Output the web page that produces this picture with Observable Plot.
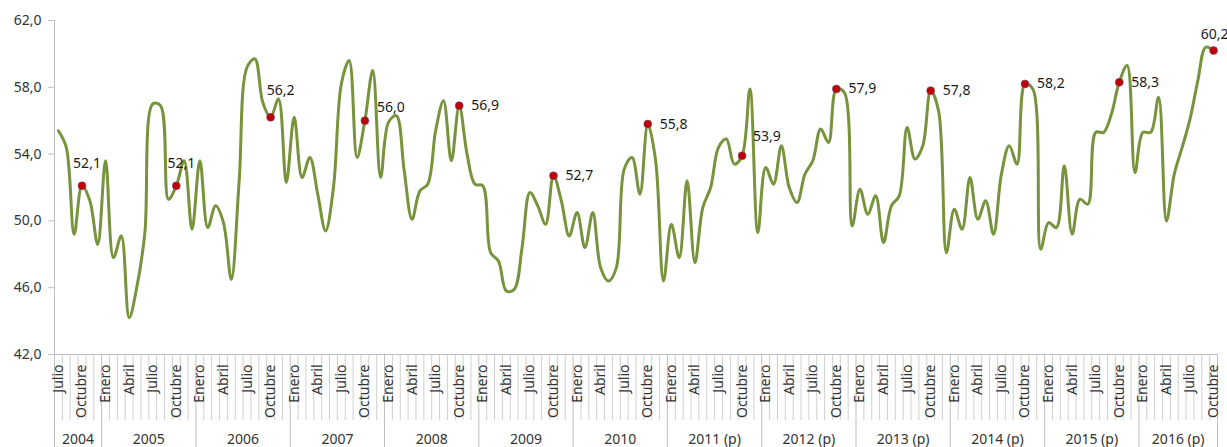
<!DOCTYPE html>
<html>
<head>
<meta charset="utf-8">
<script src="https://cdn.jsdelivr.net/npm/d3@7"></script>
<script src="https://cdn.jsdelivr.net/npm/@observablehq/plot@0.6"></script>
<style>
  html, body { margin: 0; padding: 0; background: #fff; }
  #chart svg { display: block; }
</style>
</head>
<body>
<div id="chart"></div>
<script>
// ---- data ----
const monthNames = ["Enero","Febrero","Marzo","Abril","Mayo","Junio","Julio","Agosto","Septiembre","Octubre","Noviembre","Diciembre"];
const shownMonths = ["Enero","Abril","Julio","Octubre"];
const yearLabels = ["2004","2005","2006","2007","2008","2009","2010","2011 (p)","2012 (p)","2013 (p)","2014 (p)","2015 (p)","2016 (p)"];
const startMonth = "Julio";   // first month of the series (2004)
const highlightMonth = "Octubre";
const yTicks = [42, 46, 50, 54, 58, 62];
const values = [
  55.4, 54.4, 49.2, 52.1, 51.2, 48.6,                                   // 2004 Jul-Dic
  53.6, 47.8, 49.1, 44.2, 46.1, 49.3, 57.0, 56.9, 51.3, 52.1, 53.6, 49.5, // 2005
  53.6, 49.6, 50.9, 49.9, 46.5, 52.4, 59.2, 59.7, 57.1, 56.2, 57.3, 52.3, // 2006
  56.2, 52.6, 53.8, 51.6, 49.4, 52.0, 58.2, 59.6, 53.8, 56.0, 59.0, 52.6, // 2007
  55.9, 56.3, 53.0, 50.1, 51.8, 52.2, 55.4, 57.2, 53.6, 56.9, 54.0, 52.2, // 2008
  52.1, 48.1, 47.6, 45.8, 45.9, 48.4, 51.7, 50.9, 49.8, 52.7, 51.2, 49.1, // 2009
  50.5, 48.4, 50.5, 47.2, 46.4, 47.2, 53.1, 53.8, 51.6, 55.8, 53.6, 46.4, // 2010
  49.8, 47.8, 52.4, 47.5, 50.8, 52.0, 54.4, 54.9, 53.4, 53.9, 57.9, 49.3, // 2011
  53.2, 52.2, 54.5, 52.0, 51.1, 52.8, 53.6, 55.5, 54.7, 57.9, 57.7, 49.7, // 2012
  51.9, 50.4, 51.5, 48.7, 50.9, 51.5, 55.6, 53.7, 54.5, 57.8, 56.6, 48.1, // 2013
  50.7, 49.5, 52.6, 50.1, 51.2, 49.2, 52.8, 54.5, 53.4, 58.2, 57.9, 48.3, // 2014
  49.9, 49.6, 53.3, 49.2, 51.3, 51.0, 55.3, 55.3, 56.4, 58.3, 59.3, 52.9, // 2015
  55.3, 55.3, 57.4, 50.0, 52.8, 54.4, 56.1, 58.4, 60.4, 60.2              // 2016 Ene-Oct
];
// label placement keyword for each highlighted (October) point, in order
const labelPlacement = ["above","above","aboveRight","rightHigh","right","right","right","rightHigh2","right","right","right","right","aboveEnd"];

// ---- derived table ----
const m0 = monthNames.indexOf(startMonth);
const rows = values.map((v, i) => {
  const m = (m0 + i) % 12;
  const yi = Math.floor((m0 + i) / 12);
  return {i, v, month: monthNames[m], year: yearLabels[yi]};
});
const n = rows.length;
const hl = rows.filter(d => d.month === highlightMonth).map((d, k) => ({...d, place: labelPlacement[k]}));

// year boundaries / centres in index units
const yearStarts = [];
rows.forEach((d, k) => { if (k === 0 || d.year !== rows[k - 1].year) yearStarts.push(k); });
const yearBounds = [...yearStarts.map(k => k - 0.5), n - 0.5];
const yearCenters = yearStarts.map((k, j) => ({c: (yearBounds[j] + yearBounds[j + 1]) / 2, label: rows[k].year}));
const monthBounds = d3.range(-0.5, n, 1).filter(b => !yearBounds.includes(b));
const labelTicks = rows.filter(d => shownMonths.includes(d.month));

const fmt = v => v.toFixed(1).replace(".", ",");
const font = "'Noto Sans', sans-serif";
const gray = "#bfbfbf";
const txt = "#333333";

const placeOpts = {
  above:      {textAnchor: "middle", dx: 5,  dy: -22},
  aboveRight: {textAnchor: "middle", dx: 10, dy: -27},
  rightHigh:  {textAnchor: "start",  dx: 12, dy: -13},
  rightHigh2: {textAnchor: "start",  dx: 11, dy: -19},
  right:      {textAnchor: "start",  dx: 12, dy: 0},
  aboveEnd:   {textAnchor: "middle", dx: 1,  dy: -16}
};

const labelMarks = Object.entries(placeOpts).map(([key, o]) =>
  Plot.text(hl.filter(d => d.place === key), {
    x: "i", y: "v", text: d => fmt(d.v), fill: "#1a1a1a", fontSize: 14, ...o
  })
);

const chart = Plot.plot({
  width: 1227,
  height: 447,
  marginLeft: 54,
  marginRight: 10,
  marginTop: 20,
  marginBottom: 93,
  style: {fontFamily: font, background: "#fff", overflow: "visible"},
  x: {type: "linear", domain: [-0.5, n - 0.5], axis: null},
  y: {domain: [42, 62], axis: null},
  marks: [
    // axis lines
    Plot.ruleX([-0.5], {y1: 42, y2: 62, stroke: gray}),
    Plot.ruleY([42], {x1: -0.5, x2: n - 0.5, stroke: gray}),
    // y axis
    Plot.axisY(yTicks, {anchor: "left", tickSize: 6, tickPadding: 7, stroke: gray, fill: txt, fontSize: 14, tickFormat: fmt, label: null}),
    // month dividers
    Plot.axisX(monthBounds, {anchor: "bottom", tickSize: 66, stroke: "#d0d0d0", tickFormat: () => "", label: null}),
    // year dividers
    Plot.axisX(yearBounds, {anchor: "bottom", tickSize: 93, stroke: gray, tickFormat: () => "", label: null}),
    // month labels
    Plot.axisX(labelTicks.map(d => d.i), {anchor: "bottom", tickSize: 0, tickPadding: 10, tickRotate: -90, fill: txt, fontSize: 14,
      tickFormat: i => rows[i].month, label: null}),
    // year labels
    Plot.axisX(yearCenters.map(d => d.c), {anchor: "bottom", tickSize: 0, tickPadding: 80, fill: txt, fontSize: 14,
      tickFormat: c => yearCenters.find(d => d.c === c).label, label: null}),
    // series
    Plot.line(rows, {x: "i", y: "v", curve: "catmull-rom", stroke: "#77933C", strokeWidth: 3}),
    Plot.dot(hl, {x: "i", y: "v", r: 4, fill: "#C00000", stroke: "#6c5f8f", strokeWidth: 0.6}),
    ...labelMarks
  ]
});
document.getElementById("chart").appendChild(chart);
</script>
</body>
</html>
